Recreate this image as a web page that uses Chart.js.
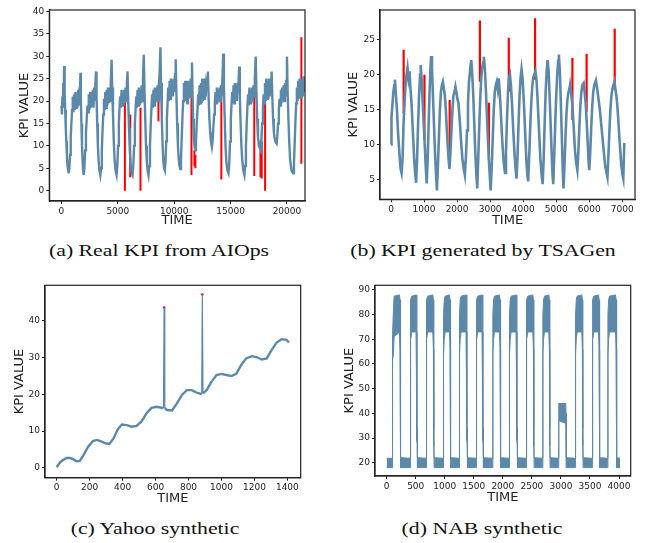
<!DOCTYPE html>
<html>
<head>
<meta charset="utf-8">
<script src="https://cdn.jsdelivr.net/npm/chart.js@4.4.1/dist/chart.umd.min.js"></script>
<style>
  html, body { margin: 0; padding: 0; background: #fff; }
  #page { position: relative; width: 646px; height: 543px; overflow: hidden; }
  canvas { position: absolute; }
  .cap {
    position: absolute; font-family: "Liberation Serif", "Times New Roman", serif;
    font-size: 17px; line-height: 20px; white-space: nowrap; color: #111;
    transform: translateX(-50%) scaleX(1.28);
  }
</style>
</head>
<body>
<div id="page">
  <canvas id="ca" width="320" height="232" style="left:0;top:0"></canvas>
  <canvas id="cb" width="316" height="232" style="left:330px;top:0"></canvas>
  <canvas id="cc" width="320" height="236" style="left:0;top:272px"></canvas>
  <canvas id="cd" width="316" height="236" style="left:330px;top:272px"></canvas>
  <div class="cap" style="left:158.7px;top:240.7px">(a) Real KPI from AIOps</div>
  <div class="cap" style="left:482.5px;top:240.7px">(b) KPI generated by TSAGen</div>
  <div class="cap" style="left:154.8px;top:518.5px">(c) Yahoo synthetic</div>
  <div class="cap" style="left:482px;top:518.5px">(d) NAB synthetic</div>
</div>
<script>
// (a) real KPI
const aTime = [
  0, 40, 80, 120, 160, 200, 236, 280, 330, 380, 430, 480, 540, 600, 648,
  700, 760, 820, 880, 940, 1000, 1060, 1120, 1180, 1240, 1300, 1360, 1420, 1480, 1540, 1600, 1640, 1680, 1720, 1770, 1820, 1870, 1920, 1973,
  2030, 2100, 2170, 2240, 2300, 2360, 2420, 2480, 2540, 2600, 2660, 2720, 2780, 2840, 2900, 2960, 3010, 3063, 3110, 3170, 3230, 3300, 3370, 3445,
  3510, 3580, 3650, 3710, 3770, 3830, 3890, 3950, 4010, 4070, 4130, 4190, 4250, 4310, 4370, 4447, 4500, 4570, 4640, 4710, 4800, 4889,
  4950, 5020, 5090, 5150, 5210, 5270, 5330, 5390, 5450, 5510, 5570, 5630, 5690, 5750, 5800, 5860, 5920, 5990, 6060, 6130, 6220, 6302,
  6370, 6440, 6510, 6570, 6630, 6690, 6750, 6810, 6870, 6930, 6990, 7050, 7110, 7170, 7230, 7300, 7360, 7430, 7500, 7570, 7640, 7716,
  7780, 7850, 7920, 7980, 8040, 8100, 8160, 8220, 8280, 8340, 8400, 8460, 8520, 8580, 8640, 8700, 8776, 8830, 8900, 8970, 9040, 9100, 9160,
  9220, 9290, 9350, 9410, 9470, 9530, 9590, 9650, 9710, 9770, 9830, 9890, 9950, 10010, 10070, 10130, 10190, 10260, 10330, 10400, 10470, 10543,
  10600, 10670, 10740, 10800, 10860, 10920, 10980, 11040, 11100, 11160, 11220, 11280, 11340, 11400, 11460, 11520, 11574, 11620, 11680, 11740, 11800, 11868,
  11930, 12000, 12070, 12130, 12190, 12250, 12310, 12370, 12430, 12490, 12550, 12610, 12670, 12730, 12790, 12850, 12920, 12987, 13050, 13120, 13190, 13260, 13340,
  13400, 13470, 13540, 13600, 13660, 13720, 13780, 13840, 13900, 13960, 14020, 14080, 14140, 14200, 14260, 14350, 14410, 14480, 14550, 14620, 14720, 14813,
  14880, 14950, 15020, 15080, 15140, 15200, 15260, 15320, 15380, 15440, 15500, 15560, 15620, 15680, 15755, 15820, 15890, 15960, 16030, 16130, 16227,
  16290, 16360, 16430, 16490, 16550, 16610, 16670, 16730, 16790, 16850, 16910, 16970, 17030, 17090, 17150, 17228, 17290, 17360, 17430, 17510, 17590, 17670,
  17730, 17800, 17870, 17930, 17990, 18050, 18110, 18170, 18230, 18290, 18350, 18410, 18470, 18530, 18580, 18640, 18700, 18770, 18840, 18920, 19000, 19084,
  19140, 19210, 19280, 19340, 19400, 19460, 19520, 19580, 19640, 19700, 19760, 19820, 19880, 19940, 20000, 20060, 20130, 20200, 20280, 20400, 20556,
  20620, 20690, 20760, 20820, 20880, 20940, 21000, 21060, 21120, 21180, 21240, 21300, 21360, 21420, 21480, 21540, 21600
];
const aValue = [
  19, 17, 21, 18.5, 24, 22, 27.8, 22, 18, 14, 11, 8, 5.5, 4.5, 3.9,
  5, 8, 12, 15, 18, 21, 17.5, 21.5, 18, 22, 18.5, 21.5, 18.5, 22.5, 19, 23, 21, 26.3, 20, 15, 10, 7, 4.5, 3.5,
  5, 9, 13, 16, 19, 17.5, 21.5, 18, 22, 18.5, 22, 19, 22.5, 18.5, 23, 20, 24, 26.6, 21, 15, 10, 6.5, 4.5, 3.5,
  5, 9, 14, 17, 20.5, 18, 22, 18.5, 22.5, 19, 23, 19.5, 23, 20, 24, 29.2, 23, 17, 11, 7, 4.5, 3.5,
  5.5, 10, 15, 18.5, 21, 18.5, 22.5, 19, 22, 19, 22.5, 19.5, 23, 20, 24, 26.6, 20, 14, 9, 6, 4, 3.5,
  5.5, 10, 15, 18, 21, 18.5, 22.5, 19, 23, 19, 22.5, 19.5, 23.5, 20, 25, 30.3, 23, 16, 10, 6.5, 4.5, 3.5,
  5.5, 10, 15, 18.5, 21.5, 18.5, 22.5, 19, 23, 19.5, 23, 20, 23.5, 20, 24, 26, 32, 24, 16, 10, 6.5, 5, 4.6,
  6, 11, 16, 19.5, 23, 20, 24.5, 20.5, 25, 21, 24.5, 21, 25, 22, 26, 29.3, 22, 15, 10, 7, 5.5, 4.8,
  7, 12, 17, 20, 24, 20, 24.5, 20, 24, 19.5, 24.5, 20.5, 24.5, 21, 25, 23, 28.6, 22, 16, 12, 10, 9,
  11, 15, 18.5, 21.5, 19, 23.5, 19.5, 24, 19.5, 25, 20, 24, 20.5, 25, 21, 24, 23, 26.6, 21, 16, 13, 11, 9.8,
  11, 14, 17, 19, 22, 19.5, 23, 19.5, 22.5, 20, 23, 20, 23.5, 21, 24, 30.6, 23, 16, 10, 6.5, 4.5, 3.9,
  6, 11, 16, 19, 22, 19.5, 23.5, 19.5, 24, 20, 23.5, 20, 24, 22, 27.7, 21, 15, 10, 7, 4.5, 3.5,
  5.5, 10, 15, 18.5, 21.5, 19, 23, 19.5, 22.5, 19.5, 23, 20, 23.5, 21, 25, 29.9, 22, 16, 12, 10, 9.5, 9,
  11, 15, 18.5, 21.5, 19.5, 24, 20, 25, 20.5, 24.5, 20.5, 25, 21, 24, 22, 26.6, 21, 16, 13, 11.5, 10.8, 10.5,
  12, 15, 18, 20.5, 19, 22.5, 19.5, 23, 20, 23.5, 20, 24, 21, 24.5, 29.9, 22, 16, 11, 7, 4.5, 3.9,
  6, 11, 16, 19.5, 23, 20, 24.5, 20.5, 25, 21, 24.5, 20.5, 25, 21, 25.5, 22, 25
];
const aRedX = [5625, 6096, 7009, 8600, 11530, 11790, 11880, 14180, 17100, 17650, 17760, 18060, 21280];
const aRedTop = [21.4, 17, 18.5, 23.4, 24.5, 9, 8, 23, 21.8, 11.2, 11, 21.5, 34.2];
const aRedBottom = [0, 3, 0, 15.5, 3.5, 5.5, 5, 2.5, 3.3, 3, 2.7, 0, 6];
const aXTicks = [0, 5000, 10000, 15000, 20000];
const aYTicks = [0, 5, 10, 15, 20, 25, 30, 35, 40];

// (b) TSAGen KPI
const bTime = [
  0, 15, 40, 70, 100, 120, 150, 180, 210, 250, 290, 320,
  350, 380, 410, 440, 470, 500, 530, 560, 590, 620, 660, 700, 730, 760,
  790, 820, 850, 880, 900, 930, 960, 990, 1020, 1050, 1080,
  1110, 1140, 1170, 1195, 1215, 1240, 1270, 1300, 1330, 1360, 1390,
  1420, 1450, 1480, 1510, 1540, 1570, 1600, 1630, 1660, 1690, 1720, 1750, 1770,
  1800, 1830, 1860, 1890, 1920, 1950, 1980, 2010, 2040, 2080, 2120, 2160, 2200, 2235,
  2270, 2300, 2330, 2360, 2400, 2430, 2460, 2490, 2520, 2550, 2580, 2610,
  2640, 2670, 2700, 2730, 2760, 2790, 2810, 2840, 2870, 2900, 2930, 2960, 2990, 3015,
  3050, 3080, 3110, 3140, 3170, 3200, 3230, 3260, 3290, 3320, 3350, 3380, 3410, 3450,
  3480, 3510, 3540, 3570, 3600, 3630, 3660, 3700, 3740, 3770, 3800,
  3830, 3860, 3890, 3920, 3950, 3980, 4010, 4040, 4070, 4100, 4130, 4150,
  4180, 4210, 4240, 4270, 4300, 4330, 4370, 4400, 4430, 4460, 4490, 4520, 4560, 4590,
  4620, 4650, 4680, 4710, 4740, 4770, 4800, 4830, 4860, 4890, 4910,
  4940, 4970, 5000, 5030, 5060, 5080, 5110, 5140, 5170, 5200, 5220,
  5250, 5280, 5310, 5340, 5370, 5400, 5420, 5450, 5480, 5510, 5540, 5570, 5600, 5640,
  5670, 5700, 5730, 5760, 5790, 5830, 5860, 5890, 5920, 5950, 5980, 6000,
  6030, 6060, 6090, 6120, 6150, 6200, 6240, 6280, 6320, 6360, 6400, 6440, 6480, 6520, 6550,
  6580, 6610, 6640, 6670, 6700, 6730, 6760, 6790, 6820, 6850, 6880, 6910, 6940, 6970, 7000, 7030, 7060
];
const bValue = [
  10, 14, 15.5, 17.5, 18.5, 19.3, 17, 15, 12, 9, 6.5, 5.9,
  8, 13, 16, 18.5, 20, 21, 19.5, 20.5, 18, 16, 12, 8, 6, 4.5,
  8, 13, 17, 20, 21.4, 19, 16, 13, 10, 7, 4.4,
  8, 13, 18, 21, 22.7, 21, 17, 13, 9, 6, 3.4,
  7, 11, 15, 17.5, 18.5, 19, 18, 17, 15, 12, 9.5, 7.5, 6.5,
  9, 12, 15, 17, 17.5, 18.3, 17.5, 16.5, 16, 13.5, 10.5, 8, 6.5, 5.6,
  8.5, 12, 16, 19, 21, 22.1, 20, 17, 13, 9, 6, 3.7,
  8, 12.5, 16.5, 19.5, 21, 21.8, 22.6, 21, 18, 14.5, 11, 8, 5.5, 3.4,
  7, 11, 15, 17.5, 18.5, 19, 18, 19.5, 17.5, 15, 12, 9.5, 7.5, 5.9,
  9, 13.5, 17.5, 19.5, 20, 18.5, 16, 12, 8.5, 6.5, 5.1,
  8.5, 13, 17, 19.5, 20.8, 19.5, 17, 14, 10.5, 7.5, 5.5, 4.7,
  8, 12, 15.5, 18, 19.5, 20, 20.5, 19.5, 17, 14, 11, 8, 5.5, 4.3,
  8, 13, 17.5, 20.5, 22.1, 20.5, 17, 13, 9, 5.5, 4.3,
  8.5, 13, 17, 20, 22, 22.9, 20.5, 16, 11, 6, 3.7,
  7, 11, 14.5, 16.5, 17.5, 18, 18.6, 17.5, 16, 14, 11.5, 9, 7.5, 6.3,
  9, 12.5, 15.5, 17.5, 18.5, 18.8, 17.5, 16, 13.5, 10.5, 7.5, 6.3,
  9, 12.5, 15.5, 17.5, 18.5, 19.2, 18, 16.5, 15, 13, 11, 9, 7, 6, 5.3,
  8.5, 12, 15, 17, 18, 18.5, 19, 18, 17, 15.5, 13.5, 11, 9, 7, 5.8, 5.1, 10.2
];
const bRedX = [383, 1012, 1776, 2690, 2964, 3565, 4360, 5490, 5920, 6770];
const bRedTop = [23.6, 20, 16.4, 27.8, 16, 25.3, 28.1, 22.4, 23, 26.6];
const bRedBottom = [14.5, 10.6, 8.3, 19, 7.8, 17.6, 19.3, 13.5, 14.7, 17.8];
const bXTicks = [0, 1000, 2000, 3000, 4000, 5000, 6000, 7000];
const bYTicks = [5, 10, 15, 20, 25];

// (c) Yahoo synthetic
const cTime = [
  0, 10, 20, 40, 60, 80, 100, 120, 140, 160, 190, 220, 245, 270, 295, 320, 345, 370, 395, 425,
  455, 485, 515, 545, 575, 605, 630, 648, 652, 656, 670, 700, 730, 760, 790, 820, 850, 880, 884, 888,
  910, 940, 970, 1000, 1030, 1060, 1090, 1120, 1150, 1185, 1215, 1245, 1275, 1305, 1335, 1365, 1395, 1410
];
const cValue = [
  0.2, 0.9, 1.5, 2.2, 2.7, 2.7, 2.4, 1.8, 1.9, 3.3, 5.7, 7.3, 7.6, 7.2, 6.7, 6.5, 8, 10.4, 11.8, 11.6,
  11.2, 11.4, 12.6, 14.8, 16.3, 16.6, 16.4, 16.2, 43.5, 16.2, 15.7, 15.6, 17.5, 19.8, 21.1, 21.1, 20.4, 20, 47, 20.2,
  21.1, 23.4, 25.2, 25.5, 25.2, 24.9, 25.5, 27.9, 29.7, 30.3, 30, 29.4, 29.7, 32, 34, 34.9, 34.7, 34
];
const cSpikeX = [652, 884];
const cSpikeY = [43.5, 47];
const cXTicks = [0, 200, 400, 600, 800, 1000, 1200, 1400];
const cYTicks = [0, 10, 20, 30, 40];

// (d) NAB synthetic: upper and lower edge of the noisy band
const dTime = [
  0,
  98, 101, 113, 128, 220, 230, 233, 240, 243,
  402, 405, 417, 432, 507, 517, 520, 527, 530,
  677, 680, 692, 707, 794, 804, 807, 814, 817,
  976, 979, 991, 1006, 1081, 1091, 1094, 1101, 1104,
  1251, 1254, 1266, 1281, 1368, 1378, 1381, 1388, 1391,
  1538, 1541, 1553, 1568, 1643, 1653, 1656, 1663, 1666,
  1825, 1828, 1840, 1855, 1942, 1952, 1955, 1962, 1965,
  2112, 2115, 2127, 2142, 2229, 2239, 2242, 2249, 2252,
  2399, 2402, 2414, 2429, 2516, 2526, 2529, 2536, 2539,
  2686, 2689, 2701, 2716, 2791, 2801, 2804, 2811, 2814,
  2956, 2959, 2966, 3083, 3088, 3091, 3096,
  3249, 3252, 3264, 3279, 3359, 3369, 3372, 3379, 3382,
  3536, 3539, 3551, 3566, 3647, 3657, 3660, 3667, 3670,
  3806, 3809, 3821, 3836, 3940, 3950, 3953, 3960, 3963,
  4018
];
const dHigh = [
  21.8,
  21.8, 72, 80, 87.5, 88, 86, 36, 34, 22,
  21.8, 80, 86, 87.5, 88, 86, 36, 34, 22,
  21.8, 80, 86, 87.5, 88, 86, 36, 34, 22,
  21.8, 80, 86, 87.5, 88, 86, 36, 34, 22,
  21.8, 80, 86, 87.5, 88, 86, 36, 34, 22,
  21.8, 80, 86, 87.5, 88, 86, 36, 34, 22,
  21.8, 80, 86, 87.5, 88, 86, 36, 34, 22,
  21.8, 80, 86, 87.5, 88, 86, 36, 34, 22,
  21.8, 80, 86, 87.5, 88, 86, 36, 34, 22,
  21.8, 80, 86, 87.5, 88, 86, 36, 34, 22,
  21.8, 42, 44, 44, 40, 27, 22,
  21.8, 80, 86, 87.5, 88, 86, 36, 34, 22,
  21.8, 80, 86, 87.5, 88, 86, 36, 34, 22,
  21.8, 80, 86, 87.5, 88, 86, 36, 34, 22,
  21.8
];
const dLow = [
  18,
  18, 62, 63, 71, 73, 65, 29, 27, 18,
  18, 64, 70, 73, 73, 66, 29, 27, 18,
  18, 64, 70, 73, 73, 66, 29, 27, 18,
  18, 64, 70, 73, 73, 66, 29, 27, 18,
  18, 64, 70, 73, 73, 66, 29, 27, 18,
  18, 64, 70, 73, 73, 66, 29, 27, 18,
  18, 64, 70, 73, 73, 66, 29, 27, 18,
  18, 64, 70, 73, 73, 66, 29, 27, 18,
  18, 64, 70, 73, 73, 66, 29, 27, 18,
  18, 64, 70, 73, 73, 66, 29, 27, 18,
  18, 36, 37, 36, 33, 20, 18,
  18, 64, 70, 73, 73, 66, 29, 27, 18,
  18, 64, 70, 73, 73, 66, 29, 27, 18,
  18, 64, 70, 73, 73, 66, 29, 27, 18,
  18
];
const dXTicks = [0, 500, 1000, 1500, 2000, 2500, 3000, 3500, 4000];
const dYTicks = [20, 30, 40, 50, 60, 70, 80, 90];

const BLUE = '#5c89aa';
const RED = '#ff0000';

const pts = (xs, ys) => xs.map((x, i) => ({ x: x, y: ys[i] }));
const segs = (xs, tops, bots) => xs.flatMap((x, i) => [{ x: x, y: tops[i] }, { x: x, y: bots[i] }, { x: x, y: null }]);

const frame = {
  id: 'frame',
  afterDraw(chart) {
    const { ctx, chartArea: a } = chart;
    ctx.save();
    ctx.strokeStyle = '#222';
    ctx.lineWidth = 1.2;
    ctx.strokeRect(a.left, a.top, a.right - a.left, a.bottom - a.top);
    ctx.restore();
  }
};

function panel(id, g, xr, yr, xt, yt, datasets) {
  const tickFont = { family: 'DejaVu Sans', size: 9 };
  const titleFont = { family: 'DejaVu Sans', size: 13 };
  const axisGrid = { display: true, drawOnChartArea: false, drawTicks: true, tickLength: 3, tickColor: '#222' };
  return new Chart(document.getElementById(id), {
    type: 'line',
    data: { datasets: datasets },
    options: {
      responsive: false, animation: false, events: [],
      layout: { padding: { left: 0, right: g.padR, top: g.padT, bottom: 0 } },
      plugins: { legend: { display: false }, tooltip: { enabled: false } },
      elements: { point: { radius: 0 }, line: { tension: 0 } },
      scales: {
        x: {
          type: 'linear', min: xr[0], max: xr[1],
          afterBuildTicks: s => { s.ticks = xt.map(v => ({ value: v })); },
          afterFit: s => { s.height = g.xH; },
          ticks: { font: tickFont, color: '#222', padding: 2, autoSkip: false, maxRotation: 0, callback: v => String(v) },
          grid: axisGrid,
          border: { display: true, color: '#222', width: 1.2 },
          title: { display: true, text: 'TIME', font: titleFont, color: '#222', padding: { top: 0, bottom: g.xTitlePad } }
        },
        y: {
          type: 'linear', min: yr[0], max: yr[1],
          afterBuildTicks: s => { s.ticks = yt.map(v => ({ value: v })); },
          afterFit: s => { s.width = g.yW; },
          ticks: { font: tickFont, color: '#222', padding: 2, callback: v => String(v) },
          grid: axisGrid,
          border: { display: true, color: '#222', width: 1.2 },
          title: { display: true, text: 'KPI VALUE', font: titleFont, color: '#222', padding: { top: g.yTitlePad, bottom: 0 } }
        }
      }
    },
    plugins: [frame]
  });
}

const lineSet = (data, w) => ({ data: data, borderColor: BLUE, borderWidth: w, fill: false, spanGaps: false });
const redSet = (data, w) => ({ data: data, borderColor: RED, borderWidth: w, fill: false, spanGaps: false });

panel('ca', { padR: 15, padT: 10, xH: 31, yW: 49.3, xTitlePad: 3.2, yTitlePad: 17.2 },
  [-1080, 21600], [-2.3, 40.3], aXTicks, aYTicks,
  [lineSet(pts(aTime, aValue), 2.4), redSet(segs(aRedX, aRedTop, aRedBottom), 2)]);

panel('cb', { padR: 11, padT: 10, xH: 32.7, yW: 50, xTitlePad: 3.2, yTitlePad: 15.5 },
  [-333, 7384], [2.13, 29.3], bXTicks, bYTicks,
  [lineSet(pts(bTime, bValue), 2.6), redSet(segs(bRedX, bRedTop, bRedBottom), 2.2)]);

// thin stroke for the two one-sample spikes, thicker for the noisy trend
const cLine = lineSet(pts(cTime, cValue), 2.4);
cLine.segment = { borderWidth: s => (s.p0.parsed.y > 40 || s.p1.parsed.y > 40) ? 1.2 : 2.4 };

panel('cc', { padR: 19.3, padT: 13.3, xH: 30.3, yW: 45, xTitlePad: 1.9, yTitlePad: 12.2 },
  [-71, 1481], [-2.63, 49.5], cXTicks, cYTicks,
  [cLine,
   { data: pts(cSpikeX, cSpikeY), showLine: false, pointRadius: 1.3, pointBackgroundColor: RED, pointBorderWidth: 0 }]);

panel('cd', { padR: 15.3, padT: 13.3, xH: 32, yW: 45, xTitlePad: 2.5, yTitlePad: 11.5 },
  [-201, 4201], [14.6, 91.9], dXTicks, dYTicks,
  [lineSet(pts(dTime, dLow), 1),
   { data: pts(dTime, dHigh), borderColor: BLUE, borderWidth: 1, fill: '-1', backgroundColor: BLUE }]);
</script>
</body>
</html>
